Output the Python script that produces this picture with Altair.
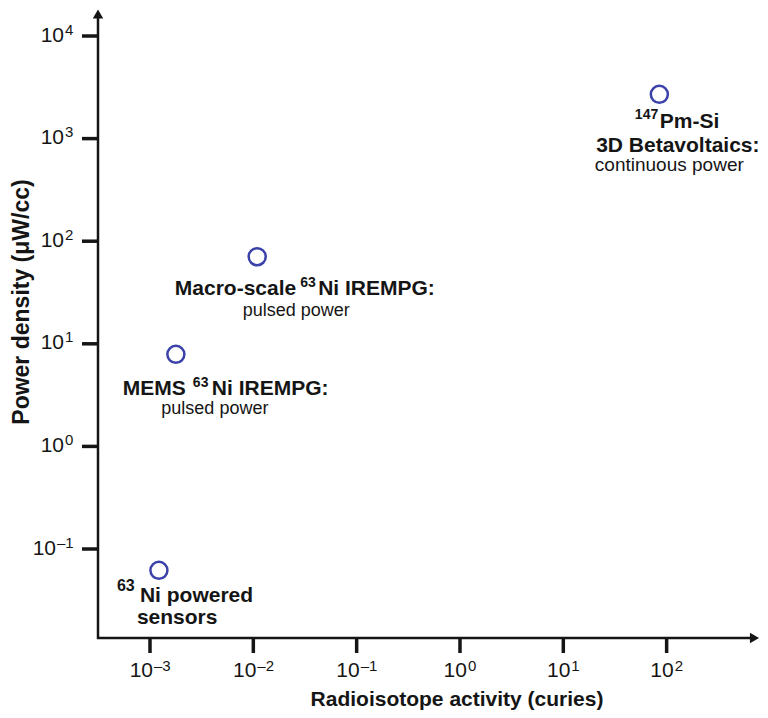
import altair as alt
import pandas as pd

# ---------------- data ----------------
names = ["sensors", "mems", "macro", "pmsi"]
activity = [1.22e-3, 1.78e-3, 1.09e-2, 85.0]      # curies
density = [0.062, 7.9, 70.6, 2700.0]               # uW/cc

x_tick_values = [1e-3, 1e-2, 1e-1, 1e0, 1e1, 1e2]
x_tick_exps = ["–3", "–2", "–1", "0", "1", "2"]
y_tick_values = [1e-1, 1e0, 1e1, 1e2, 1e3, 1e4]
y_tick_exps = ["–1", "0", "1", "2", "3", "4"]

x_title = "Radioisotope activity (curies)"
y_title = "Power density (μW/cc)"

# ---------------- layout ----------------
W, H = 662, 630
FONT = "Liberation Sans"
INK = "#151515"
BLUE = "#3a41a8"

points = pd.DataFrame({"name": names, "activity": activity, "density": density})
xt = pd.DataFrame({"v": x_tick_values, "e": x_tick_exps})
yt = pd.DataFrame({"v": y_tick_values, "e": y_tick_exps})
dummy = pd.DataFrame({"a": [0]})

xs = alt.Scale(type="log", domain=[10 ** -3.5032, 10 ** 2.9035], nice=False)
ys = alt.Scale(type="log", domain=[10 ** -1.8674, 10 ** 4.273], nice=False)

X = alt.X("activity:Q", scale=xs, axis=None)
Y = alt.Y("density:Q", scale=ys, axis=None)

layers = []

# axis lines and arrows
layers.append(alt.Chart(dummy).mark_rule(color=INK, strokeWidth=2.5).encode(
    x=alt.value(0), y=alt.value(8), y2=alt.value(H + 1)))
layers.append(alt.Chart(dummy).mark_rule(color=INK, strokeWidth=2.5).encode(
    x=alt.value(-1), x2=alt.value(654), y=alt.value(H)))
layers.append(alt.Chart(dummy).mark_point(shape="triangle-up", filled=True, size=110,
                                          color=INK, opacity=1).encode(
    x=alt.value(0), y=alt.value(6)))
layers.append(alt.Chart(dummy).mark_point(shape="triangle-right", filled=True, size=110,
                                          color=INK, opacity=1).encode(
    x=alt.value(656.5), y=alt.value(H)))

# ticks
layers.append(alt.Chart(xt).mark_rule(color=INK, strokeWidth=3.5).encode(
    x=alt.X("v:Q", scale=xs, axis=None), y=alt.value(H), y2=alt.value(H + 15)))
layers.append(alt.Chart(yt).mark_rule(color=INK, strokeWidth=3.5).encode(
    y=alt.Y("v:Q", scale=ys, axis=None), x=alt.value(-16), x2=alt.value(0)))

# x tick labels: "10" + superscript exponent
for n, anchor in [(2, 3), (1, 7)]:
    base = alt.Chart(xt).transform_filter(f"length(datum.e) == {n}")
    layers.append(base.mark_text(text="10", align="right", baseline="alphabetic",
                                 dx=anchor, dy=39, fontSize=21, font=FONT, color=INK).encode(
        x=alt.X("v:Q", scale=xs, axis=None), y=alt.value(H)))
    layers.append(base.mark_text(align="left", baseline="alphabetic",
                                 dx=anchor + 1, dy=32.5, fontSize=15, font=FONT, color=INK).encode(
        x=alt.X("v:Q", scale=xs, axis=None), y=alt.value(H), text="e:N"))

# y tick labels
for n, anchor in [(2, -42), (1, -34)]:
    base = alt.Chart(yt).transform_filter(f"length(datum.e) == {n}")
    layers.append(base.mark_text(text="10", align="right", baseline="alphabetic",
                                 dy=5.5, fontSize=21, font=FONT, color=INK).encode(
        y=alt.Y("v:Q", scale=ys, axis=None), x=alt.value(anchor)))
    layers.append(base.mark_text(align="left", baseline="alphabetic",
                                 dx=1, dy=-1.5, fontSize=15, font=FONT, color=INK).encode(
        y=alt.Y("v:Q", scale=ys, axis=None), x=alt.value(anchor), text="e:N"))

# axis titles
layers.append(alt.Chart(dummy).mark_text(text=x_title, align="center", baseline="alphabetic",
                                         fontSize=21, fontWeight="bold", font=FONT, color=INK).encode(
    x=alt.value(359), y=alt.value(698)))
layers.append(alt.Chart(dummy).mark_text(text=y_title, align="center", baseline="alphabetic",
                                         angle=270, fontSize=23, fontWeight="bold", font=FONT,
                                         color=INK).encode(
    x=alt.value(-69), y=alt.value(294)))

# data points
layers.append(alt.Chart(points).mark_point(shape="circle", filled=False, size=290,
                                           strokeWidth=2.5, color=BLUE, opacity=1).encode(
    x=X, y=Y))


def note(name, text, dx, dy, size, weight="bold", align="left"):
    return alt.Chart(points).transform_filter(alt.datum.name == name).mark_text(
        text=text, dx=dx, dy=dy, fontSize=size, fontWeight=weight, align=align,
        baseline="alphabetic", font=FONT, color=INK).encode(x=X, y=Y)


# annotations
layers += [
    note("sensors", "63", -42, 20.5, 16),
    note("sensors", "Ni powered", -19, 31.5, 21),
    note("sensors", "sensors", -22, 53.5, 21),

    note("mems", "MEMS", 10, 40.5, 21, align="right"),
    note("mems", "63", 17, 32.5, 14),
    note("mems", "Ni IREMPG:", 36, 40.5, 21),
    note("mems", "pulsed power", 39, 59.5, 18, weight="normal", align="center"),

    note("macro", "Macro-scale", 39, 38.5, 21, align="right"),
    note("macro", "63", 43, 30.5, 14),
    note("macro", "Ni IREMPG:", 61, 38.5, 21),
    note("macro", "pulsed power", 39, 59.5, 18, weight="normal", align="center"),

    note("pmsi", "147", -24.5, 24.5, 14),
    note("pmsi", "Pm-Si", 0.5, 33.5, 21),
    note("pmsi", "3D Betavoltaics:", 18.5, 57.5, 21, align="center"),
    note("pmsi", "continuous power", -64.5, 77, 19, weight="normal"),
]

chart = alt.layer(*layers).properties(
    width=W, height=H,
    padding={"left": 90, "top": 0, "right": 0, "bottom": 72},
    autosize=alt.AutoSizeParams(type="none"),
).configure_view(stroke=None)

chart.save("out.html", embed_options={"renderer": "svg", "actions": False})
